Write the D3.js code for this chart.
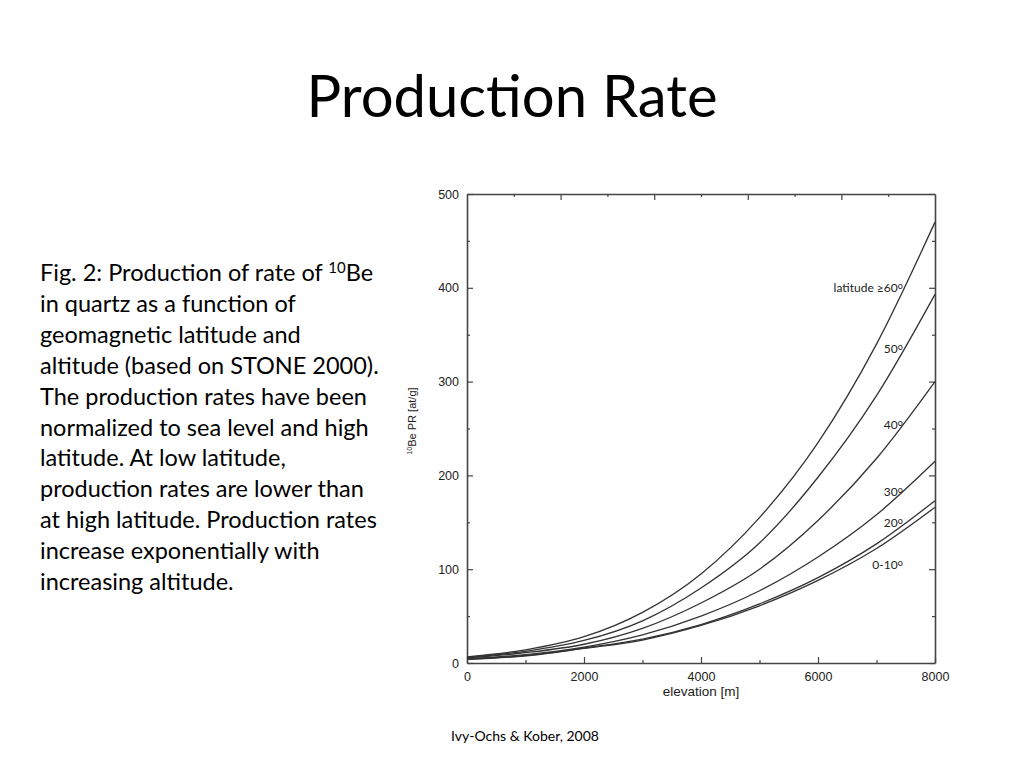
<!DOCTYPE html>
<html>
<head>
<meta charset="utf-8">
<script src="https://cdn.jsdelivr.net/npm/d3@7"></script>
<style>
  body { margin: 0; background: #fff; }
  svg { display: block; }
</style>
</head>
<body>
<div id="chart"></div>
<script>
// values (at/g vs elevation in m)
var elevations = [0, 1000, 2000, 3000, 4000, 5000, 6000, 7000, 8000];
var lat60 = [6.5, 14, 28, 54, 95, 155, 235, 340, 470];
var lat50 = [6, 12.5, 24, 45, 80, 128, 198, 285, 393];
var lat40 = [5.5, 11, 20, 37, 64, 100, 152, 218, 300];
var lat30 = [4.5, 9, 17, 30, 50, 77, 113, 158, 215];
var lat20 = [4, 8, 16, 25.5, 41, 63, 91, 127, 173];
var lat10 = [3.8, 7.5, 15.5, 24.5, 40, 61, 88, 122, 166];

var seriesLabels = ["latitude \u226560", "50", "40", "30", "20", "0-10"];
var labelValues = [400, 335, 254, 182, 149, 105];
var labelElevation = 7450;

var yTicks = [0, 100, 200, 300, 400, 500];
var yMinor = [50, 150, 250, 350, 450];
var xTicks = [0, 2000, 4000, 6000, 8000];
var xMinor = [1000, 3000, 5000, 7000];
var topMajor = [1600, 3200, 4800, 6400];
var topMinor = [800, 2400, 4000, 5600, 7200];

var descLines = [
  "in quartz as a function of",
  "geomagnetic latitude and",
  "altitude (based on STONE 2000).",
  "The production rates have been",
  "normalized to sea level and high",
  "latitude. At low latitude,",
  "production rates are lower than",
  "at high latitude. Production rates",
  "increase exponentially with",
  "increasing altitude."
];

var series = [lat60, lat50, lat40, lat30, lat20, lat10];

var svgWidth = 1024;
var svgHeight = 768;

var svg = d3.select("#chart")
  .append("svg")
  .attr("width", svgWidth)
  .attr("height", svgHeight);

var textFont = "Lato, 'Open Sans', sans-serif";

// title
svg.append("text")
  .attr("x", 512)
  .attr("y", 117)
  .attr("text-anchor", "middle")
  .attr("font-family", textFont)
  .attr("font-size", 58)
  .attr("fill", "#000")
  .text("Production Rate");

// description text on the left
var desc = svg.append("text")
  .attr("font-family", textFont)
  .attr("font-size", 23.5)
  .attr("fill", "#000");

var first = desc.append("tspan").attr("x", 40).attr("y", 281);
first.append("tspan").text("Fig. 2: Production of rate of ");
first.append("tspan").attr("font-size", 15).attr("dy", -8).text("10");
first.append("tspan").attr("dy", 8).text("Be");

descLines.forEach(function(line, i) {
  desc.append("tspan")
    .attr("x", 40)
    .attr("y", 281 + (i + 1) * 30.9)
    .text(line);
});

// footer
svg.append("text")
  .attr("x", 525)
  .attr("y", 741)
  .attr("text-anchor", "middle")
  .attr("font-family", textFont)
  .attr("font-size", 14)
  .attr("fill", "#000")
  .text("Ivy-Ochs & Kober, 2008");

// plot
var margin = { top: 194, left: 467 };
var chartWidth = 935 - 467;
var chartHeight = 663 - 194;

var chartGroup = svg.append("g")
  .attr("transform", `translate(${margin.left}, ${margin.top})`);

var xScale = d3.scaleLinear().domain([0, 8000]).range([0, chartWidth]);
var yScale = d3.scaleLinear().domain([0, 500]).range([chartHeight, 0]);

var axisFont = "'Liberation Sans', Arial, sans-serif";
var axisColor = "#444";

function styleAxis(g) {
  g.attr("color", "#222");
  g.selectAll("path").attr("stroke", axisColor).attr("stroke-width", 1.6);
  g.selectAll("line").attr("stroke", axisColor).attr("stroke-width", 1.2);
  g.selectAll("text").attr("font-family", axisFont).attr("font-size", 12.5).attr("fill", "#222");
}

// left axis
chartGroup.append("g")
  .call(d3.axisLeft(yScale).tickValues(yTicks).tickSize(-6).tickSizeOuter(0).tickPadding(8))
  .call(styleAxis);
chartGroup.append("g")
  .call(d3.axisLeft(yScale).tickValues(yMinor).tickSize(-3).tickFormat(""))
  .call(styleAxis)
  .select(".domain").remove();

// right axis
chartGroup.append("g")
  .attr("transform", `translate(${chartWidth}, 0)`)
  .call(d3.axisRight(yScale).tickValues(yTicks).tickSize(-6).tickSizeOuter(0).tickFormat(""))
  .call(styleAxis);
chartGroup.append("g")
  .attr("transform", `translate(${chartWidth}, 0)`)
  .call(d3.axisRight(yScale).tickValues(yMinor).tickSize(-3).tickFormat(""))
  .call(styleAxis)
  .select(".domain").remove();

// bottom axis
chartGroup.append("g")
  .attr("transform", `translate(0, ${chartHeight})`)
  .call(d3.axisBottom(xScale).tickValues(xTicks).tickSize(-6).tickSizeOuter(0)
    .tickPadding(9).tickFormat(d3.format("d")))
  .call(styleAxis);
chartGroup.append("g")
  .attr("transform", `translate(0, ${chartHeight})`)
  .call(d3.axisBottom(xScale).tickValues(xMinor).tickSize(-3).tickFormat(""))
  .call(styleAxis)
  .select(".domain").remove();

// top axis
chartGroup.append("g")
  .call(d3.axisTop(xScale).tickValues(topMajor).tickSize(-6).tickSizeOuter(0).tickFormat(""))
  .call(styleAxis);
chartGroup.append("g")
  .call(d3.axisTop(xScale).tickValues(topMinor).tickSize(-3).tickFormat(""))
  .call(styleAxis)
  .select(".domain").remove();

// axis titles
chartGroup.append("text")
  .attr("x", xScale(4000))
  .attr("y", chartHeight + 33)
  .attr("text-anchor", "middle")
  .attr("font-family", axisFont)
  .attr("font-size", 13.5)
  .attr("fill", "#222")
  .text("elevation [m]");

var yTitle = chartGroup.append("text")
  .attr("transform", `translate(-51, ${yScale(258)}) rotate(-90)`)
  .attr("text-anchor", "middle")
  .attr("font-family", axisFont)
  .attr("font-size", 11)
  .attr("fill", "#222");
yTitle.append("tspan").attr("font-size", 7).attr("dy", -4).text("10");
yTitle.append("tspan").attr("dy", 4).text("Be PR [at/g]");

// curves
var line = d3.line()
  .x((d, i) => xScale(elevations[i]))
  .y(d => yScale(d))
  .curve(d3.curveMonotoneX);

chartGroup.selectAll(".curve")
  .data(series)
  .enter()
  .append("path")
  .attr("class", "curve")
  .attr("d", line)
  .attr("fill", "none")
  .attr("stroke", "#333")
  .attr("stroke-width", 1.3);

// curve labels
var labels = chartGroup.selectAll(".lab")
  .data(seriesLabels)
  .enter()
  .append("text")
  .attr("class", "lab")
  .attr("x", xScale(labelElevation))
  .attr("y", (d, i) => yScale(labelValues[i]) + 4)
  .attr("text-anchor", "end")
  .attr("font-family", textFont)
  .attr("font-size", 12)
  .attr("fill", "#222");

labels.append("tspan").text(d => d);
labels.append("tspan").attr("font-size", 9).attr("dy", -3).text("o");
</script>
</body>
</html>
